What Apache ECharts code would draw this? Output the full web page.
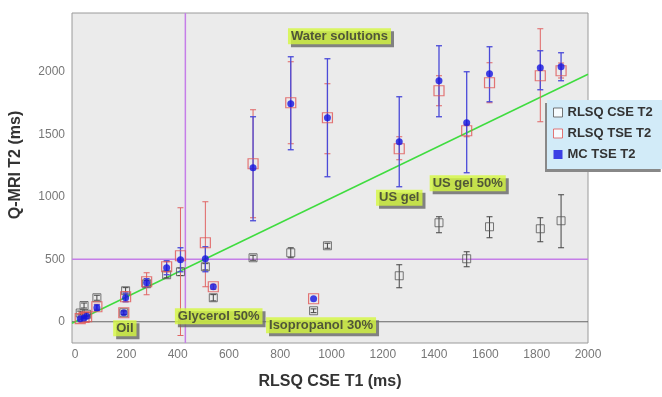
<!DOCTYPE html>
<html>
<head>
<meta charset="utf-8">
<script src="https://cdn.jsdelivr.net/npm/echarts@6/dist/echarts.min.js"></script>
<style>
  html, body { margin: 0; padding: 0; background: #fff; }
  #chart { width: 662px; height: 397px; }
</style>
</head>
<body>
<div id="chart"></div>
<script>
// RLSQ CSE T1 (ms), shared by all three series
const t1 = [20, 35, 45, 85, 190, 197, 279, 357, 411, 508, 539, 694, 841, 930, 984, 1264, 1419, 1527, 1616, 1814, 1895];

// RLSQ CSE T2
const cseT2 = [70, 130, 60, 192, 72, 248, 304, 376, 400, 440, 192, 512, 552, 88, 608, 368, 792, 504, 760, 744, 808];
const cseLo = [55, 110, 45, 172, 57, 223, 279, 351, 370, 415, 167, 492, 512, 73, 588, 272, 712, 440, 672, 640, 592];
const cseHi = [85, 150, 75, 212, 87, 273, 329, 401, 430, 465, 217, 532, 592, 103, 628, 456, 840, 560, 840, 832, 1016];

// RLSQ TSE T2
const tseT2 = [25, 35, 40, 120, 72, 200, 320, 440, 528, 632, 280, 1264, 1752, 184, 1632, 1384, 1848, 1528, 1912, 1968, 2008];
const tseLo = [null, null, null, 100, null, 160, 216, 400, -110, 280, 260, 832, 1424, null, 1344, 1296, 1728, 1480, 1752, 1600, 1950];
const tseHi = [null, null, null, 140, null, 240, 392, 480, 912, 960, 300, 1696, 2080, null, 1904, 1480, 1968, 1580, 2072, 2344, 2070];

// MC TSE T2
const mcT2 = [25, 30, 45, 112, 72, 192, 312, 432, 496, 504, 280, 1232, 1744, 184, 1632, 1440, 1928, 1592, 1984, 2032, 2040];
const mcLo = [null, null, null, 90, null, 160, 280, 376, 400, 400, null, 808, 1376, null, 1160, 1080, 1640, 1192, 1760, 1856, 1928];
const mcHi = [null, null, null, 135, null, 230, 345, 488, 592, 600, null, 1640, 2120, null, 2104, 1800, 2208, 2000, 2200, 2168, 2152];

const fitLine = [[-12, -12], [2000, 1980]];
const guideT1 = 430;
const guideT2 = 500;

const xTicks = [0, 200, 400, 600, 800, 1000, 1200, 1400, 1600, 1800, 2000];
const yTicks = [0, 500, 1000, 1500, 2000];

const notes = [
  { name: 'Water solutions', value: [1031, 2284] },
  { name: 'US gel', value: [1264, 992] },
  { name: 'US gel 50%', value: [1531, 1108] },
  { name: 'Oil', value: [194, -52] },
  { name: 'Glycerol 50%', value: [560, 44] },
  { name: 'Isopropanol 30%', value: [959, -28] }
];

const FONT = 'Liberation Sans, Arial, sans-serif';

function points(ys) {
  return t1.map((x, i) => [x, ys[i]]);
}

function bars(lo, hi) {
  const out = [];
  for (let i = 0; i < t1.length; i++) {
    if (lo[i] == null || hi[i] == null) continue;
    out.push([t1[i], lo[i], hi[i]]);
  }
  return out;
}

function errRender(color, width) {
  return function (params, api) {
    const x = api.value(0);
    const top = api.coord([x, api.value(2)]);
    const bot = api.coord([x, api.value(1)]);
    const cap = 3;
    const style = { stroke: color, lineWidth: width };
    return {
      type: 'group',
      children: [
        { type: 'line', shape: { x1: top[0], y1: top[1], x2: bot[0], y2: bot[1] }, style },
        { type: 'line', shape: { x1: top[0] - cap, y1: top[1], x2: top[0] + cap, y2: top[1] }, style },
        { type: 'line', shape: { x1: bot[0] - cap, y1: bot[1], x2: bot[0] + cap, y2: bot[1] }, style }
      ]
    };
  };
}

const chart = echarts.init(document.getElementById('chart'));

const option = {
  animation: false,
  textStyle: { fontFamily: FONT },
  grid: {
    left: 69, right: 74, top: 13, bottom: 54,
    show: true,
    backgroundColor: '#ebebeb',
    borderColor: '#9a9a9a',
    borderWidth: 1
  },
  legend: {
    orient: 'vertical',
    left: 547,
    top: 100,
    width: 111,
    padding: [6, 10, 8, 6],
    itemGap: 8,
    itemWidth: 9,
    itemHeight: 9,
    backgroundColor: '#d2ebf8',
    shadowColor: '#888',
    shadowOffsetX: -2,
    shadowOffsetY: 3,
    shadowBlur: 0,
    textStyle: { fontSize: 13, fontWeight: 'bold', color: '#333', fontFamily: FONT },
    data: [
      { name: 'RLSQ CSE T2', icon: 'rect', itemStyle: { color: '#fff', borderColor: '#555', borderWidth: 1 } },
      { name: 'RLSQ TSE T2', icon: 'rect', itemStyle: { color: '#fff', borderColor: '#e05555', borderWidth: 1 } },
      { name: 'MC TSE T2', icon: 'rect', itemStyle: { color: '#1414e0' } }
    ]
  },
  xAxis: {
    type: 'value',
    min: -12,
    max: 2000,
    name: 'RLSQ CSE T1 (ms)',
    nameLocation: 'middle',
    nameGap: 31,
    nameTextStyle: { fontSize: 16, fontWeight: 'bold', color: '#333', fontFamily: FONT },
    axisLine: { show: false },
    axisTick: { show: false },
    splitLine: { show: false },
    axisLabel: { customValues: xTicks, formatter: (v) => String(v), color: '#777', fontSize: 12, margin: 6, fontFamily: FONT }
  },
  yAxis: {
    type: 'value',
    min: -170,
    max: 2470,
    name: 'Q-MRI T2 (ms)',
    nameLocation: 'middle',
    nameGap: 48,
    nameTextStyle: { fontSize: 16, fontWeight: 'bold', color: '#333', fontFamily: FONT, padding: [0, 0, 0, 26] },
    axisLine: { show: false },
    axisTick: { show: false },
    splitLine: { show: false },
    axisLabel: { customValues: yTicks, formatter: (v) => String(v), color: '#777', fontSize: 12, margin: 7, fontFamily: FONT }
  },
  series: [
    // purple guide lines and the dark zero line, drawn as plain line series
    {
      type: 'line',
      data: [[guideT1, -170], [guideT1, 2470]],
      symbol: 'none',
      silent: true,
      lineStyle: { color: '#c57ee8', width: 1.5 },
      z: 1
    },
    {
      type: 'line',
      data: [[-12, guideT2], [2000, guideT2]],
      symbol: 'none',
      silent: true,
      lineStyle: { color: '#c57ee8', width: 1.5 },
      z: 1
    },
    {
      type: 'line',
      data: [[-12, 0], [2000, 0]],
      symbol: 'none',
      silent: true,
      lineStyle: { color: '#666', width: 1 },
      z: 1
    },
    {
      type: 'line',
      data: fitLine,
      symbol: 'none',
      silent: true,
      lineStyle: { color: '#3fdc3f', width: 1.5 },
      z: 1
    },
    {
      type: 'custom',
      data: bars(cseLo, cseHi),
      encode: { x: 0, y: [1, 2] },
      renderItem: errRender('#444', 1),
      silent: true,
      z: 2
    },
    {
      name: 'RLSQ CSE T2',
      type: 'scatter',
      data: points(cseT2),
      symbol: 'rect',
      symbolSize: 8,
      itemStyle: { color: 'rgba(0,0,0,0)', borderColor: '#555', borderWidth: 1 },
      z: 3
    },
    {
      type: 'custom',
      data: bars(tseLo, tseHi),
      encode: { x: 0, y: [1, 2] },
      renderItem: errRender('#e06565', 1),
      silent: true,
      z: 4
    },
    {
      type: 'custom',
      data: bars(mcLo, mcHi),
      encode: { x: 0, y: [1, 2] },
      renderItem: errRender('#4a4ad8', 1.3),
      silent: true,
      z: 5
    },
    {
      name: 'RLSQ TSE T2',
      type: 'scatter',
      data: points(tseT2),
      symbol: 'rect',
      symbolSize: 10,
      itemStyle: { color: 'rgba(0,0,0,0)', borderColor: '#e05555', borderWidth: 1.2 },
      z: 6
    },
    {
      name: 'MC TSE T2',
      type: 'scatter',
      data: points(mcT2),
      symbol: 'circle',
      symbolSize: 7,
      itemStyle: { color: '#1414e0' },
      z: 7
    },
    {
      type: 'scatter',
      data: notes,
      symbolSize: 0,
      silent: true,
      z: 10,
      label: {
        show: true,
        position: 'inside',
        formatter: '{b}',
        fontSize: 13,
        fontWeight: 'bold',
        color: '#333',
        fontFamily: FONT,
        backgroundColor: '#d4f73e',
        padding: [2, 3, 1, 3],
        shadowColor: '#666',
        shadowOffsetX: 3,
        shadowOffsetY: 3,
        shadowBlur: 0
      }
    }
  ]
};

chart.setOption(option);
</script>
</body>
</html>
